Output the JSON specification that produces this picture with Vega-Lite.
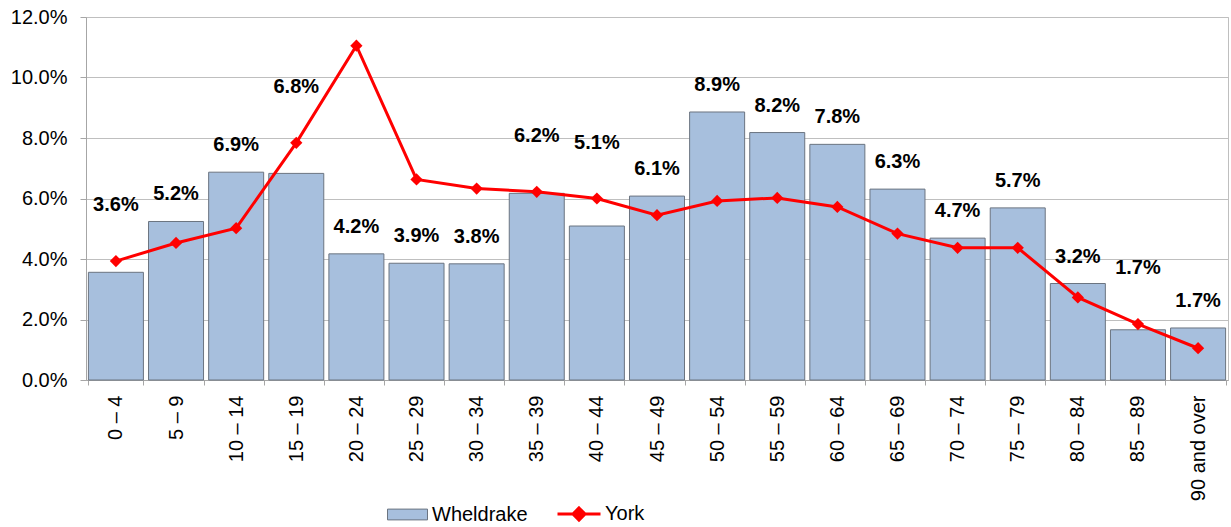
{
  "$schema": "https://vega.github.io/schema/vega-lite/v6.json",
  "width": 1142,
  "height": 363,
  "autosize": {"type": "none"},
  "padding": {"left": 86, "top": 17, "right": 3, "bottom": 147},
  "background": "#ffffff",
  "config": {
    "font": "Liberation Sans",
    "view": {"stroke": "#bfbfbf", "strokeWidth": 1},
    "axis": {
      "labelFont": "Liberation Sans",
      "labelFontSize": 20,
      "labelColor": "#000000",
      "domainColor": "#a6a6a6",
      "tickColor": "#a6a6a6",
      "gridColor": "#bfbfbf",
      "title": null
    },
    "legend": {
      "labelFont": "Liberation Sans",
      "labelFontSize": 20,
      "labelColor": "#000000",
      "padding": 0
    }
  },
  "data": {
    "values": [
      {"age": "0 – 4", "wheldrake": 0.0356, "york": 0.0393},
      {"age": "5 – 9", "wheldrake": 0.0524, "york": 0.0453},
      {"age": "10 – 14", "wheldrake": 0.0687, "york": 0.0502},
      {"age": "15 – 19", "wheldrake": 0.0683, "york": 0.0784},
      {"age": "20 – 24", "wheldrake": 0.0417, "york": 0.1105},
      {"age": "25 – 29", "wheldrake": 0.0386, "york": 0.0663},
      {"age": "30 – 34", "wheldrake": 0.0384, "york": 0.0633},
      {"age": "35 – 39", "wheldrake": 0.0617, "york": 0.0622},
      {"age": "40 – 44", "wheldrake": 0.0509, "york": 0.0600},
      {"age": "45 – 49", "wheldrake": 0.0608, "york": 0.0545},
      {"age": "50 – 54", "wheldrake": 0.0886, "york": 0.0592},
      {"age": "55 – 59", "wheldrake": 0.0818, "york": 0.0602},
      {"age": "60 – 64", "wheldrake": 0.0779, "york": 0.0572},
      {"age": "65 – 69", "wheldrake": 0.0631, "york": 0.0484},
      {"age": "70 – 74", "wheldrake": 0.0469, "york": 0.0437},
      {"age": "75 – 79", "wheldrake": 0.0569, "york": 0.0437},
      {"age": "80 – 84", "wheldrake": 0.0319, "york": 0.0273},
      {"age": "85 – 89", "wheldrake": 0.0166, "york": 0.0185},
      {"age": "90 and over", "wheldrake": 0.0172, "york": 0.0105}
    ]
  },
  "transform": [
    {"calculate": "datum.york > datum.wheldrake && datum.york - datum.wheldrake < 0.02", "as": "aboveYork"}
  ],
  "encoding": {
    "x": {
      "field": "age",
      "type": "nominal",
      "sort": null,
      "scale": {"paddingInner": 0.085, "paddingOuter": 0.04},
      "axis": {
        "labelAngle": 270,
        "labelAlign": "right",
        "labelBaseline": "middle",
        "labelPadding": 10,
        "tickSize": 5,
        "tickBand": "extent",
        "grid": false
      }
    }
  },
  "layer": [
    {
      "mark": {"type": "bar", "stroke": "#6b7480", "strokeWidth": 1},
      "encoding": {
        "y": {
          "field": "wheldrake",
          "type": "quantitative",
          "scale": {"domain": [0, 0.12], "nice": false},
          "axis": {
            "values": [0, 0.02, 0.04, 0.06, 0.08, 0.1, 0.12],
            "format": ".1%",
            "tickSize": 6,
            "labelPadding": 13,
            "grid": true
          }
        },
        "fill": {
          "datum": "Wheldrake",
          "scale": {"range": ["#a7bfdd"]},
          "legend": {
            "orient": "none",
            "legendX": 301,
            "legendY": 477,
            "title": null,
            "symbolType": "M-1,-0.27H1V0.27H-1Z",
            "symbolSize": 1600,
            "symbolStrokeColor": "#6b7480",
            "symbolStrokeWidth": 1,
            "symbolOpacity": 1,
            "labelOffset": 4
          }
        }
      }
    },
    {
      "mark": {"type": "line", "strokeWidth": 3},
      "encoding": {
        "y": {"field": "york", "type": "quantitative"},
        "stroke": {
          "datum": "York",
          "scale": {"range": ["#ff0000"]},
          "legend": {
            "orient": "none",
            "legendX": 470,
            "legendY": 474,
            "title": null,
            "symbolType": "M-1,0H1M0,-0.28L0.28,0L0,0.28L-0.28,0Z",
            "symbolSize": 1849,
            "symbolStrokeWidth": 3,
            "symbolFillColor": "#ff0000",
            "symbolStrokeColor": "#ff0000",
            "labelOffset": 3
          }
        }
      }
    },
    {
      "mark": {"type": "point", "shape": "diamond", "size": 150, "filled": true, "color": "#ff0000", "opacity": 1},
      "encoding": {
        "y": {"field": "york", "type": "quantitative"}
      }
    },
    {
      "transform": [{"filter": "!datum.aboveYork"}],
      "mark": {"type": "text", "fontWeight": "bold", "fontSize": 20, "font": "Liberation Sans", "color": "#000000", "baseline": "middle", "dy": -27},
      "encoding": {
        "y": {"field": "wheldrake", "type": "quantitative"},
        "text": {"field": "wheldrake", "type": "quantitative", "format": ".1%"}
      }
    },
    {
      "transform": [{"filter": "datum.aboveYork"}],
      "mark": {"type": "text", "fontWeight": "bold", "fontSize": 20, "font": "Liberation Sans", "color": "#000000", "baseline": "middle", "dy": -56},
      "encoding": {
        "y": {"field": "york", "type": "quantitative"},
        "text": {"field": "wheldrake", "type": "quantitative", "format": ".1%"}
      }
    }
  ]
}
